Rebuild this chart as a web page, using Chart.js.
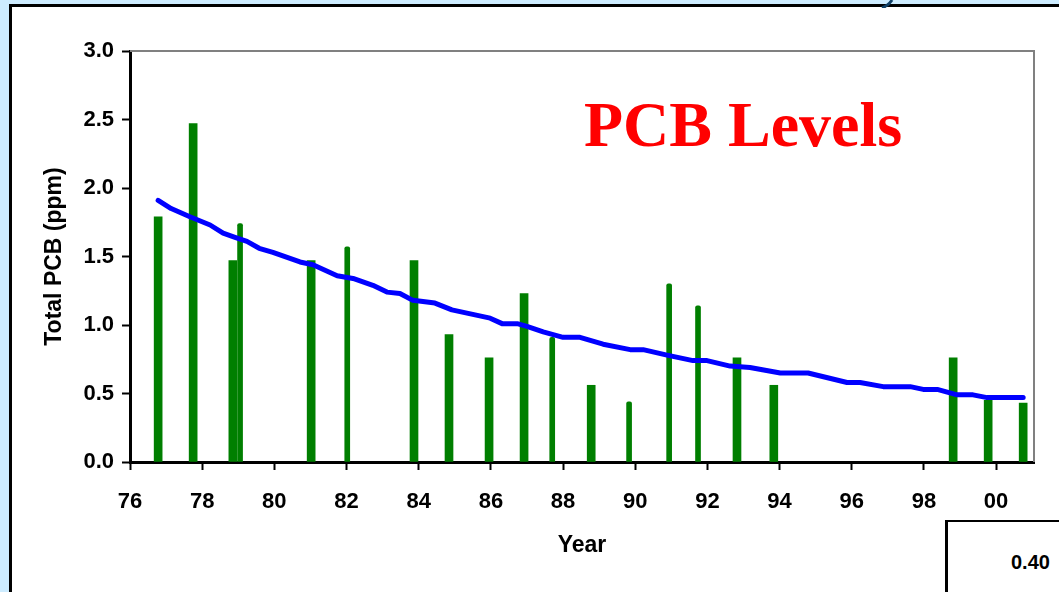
<!DOCTYPE html>
<html>
<head>
<meta charset="utf-8">
<script src="https://cdn.jsdelivr.net/npm/chart.js@4"></script>
<style>
  html, body { margin: 0; padding: 0; }
  body {
    width: 1059px; height: 592px; overflow: hidden; position: relative;
    background: #cdecff;
    font-family: "Liberation Sans", Arial, sans-serif;
  }
  #panel {
    position: absolute; left: 9px; top: 4px; width: 1100px; height: 700px;
    background: #fff; border-left: 3px solid #000; border-top: 3px solid #000;
  }
  #deco { position: absolute; left: 870px; top: 0; }
  #chart { position: absolute; left: 0; top: 0; }
  #heading {
    position: absolute; left: 584px; top: 93px; white-space: nowrap;
    font: bold 64px/64px "Liberation Serif", "Times New Roman", serif;
    color: #ff0000;
  }
  #valueBox {
    position: absolute; left: 945px; top: 520px; width: 200px; height: 200px;
    background: #fff; border-left: 3px solid #000; border-top: 2px solid #000;
  }
  #valueBox span {
    position: absolute; left: 63px; top: 30px;
    font: bold 20px/20px "Liberation Sans", Arial, sans-serif; color: #000;
  }
</style>
</head>
<body>
<div id="panel"></div>
<svg id="deco" width="30" height="8"><path d="M12 8 Q19 5 22 0" stroke="#0f3f66" stroke-width="3" fill="none"/></svg>
<canvas id="chart" width="1059" height="592"></canvas>
<div id="heading">PCB Levels</div>
<div id="valueBox"><span>0.40</span></div>
<script>
// wide sampling bars
const wideYears  = [76.78, 77.75, 78.85, 81.02, 83.87, 84.84, 85.95, 86.92, 88.78, 92.82, 93.84, 98.81, 99.78, 100.75];
const wideValues = [1.79, 2.47, 1.47, 1.47, 1.47, 0.93, 0.76, 1.23, 0.56, 0.76, 0.56, 0.76, 0.45, 0.43];

// narrow sampling bars
const narrowYears  = [79.05, 82.02, 87.70, 89.83, 90.94, 91.74];
const narrowValues = [1.74, 1.57, 0.91, 0.44, 1.30, 1.14];

// fitted trend
const trendYears = [76.78, 77.14, 77.66, 78.22, 78.58, 78.91, 79.24, 79.58, 79.96, 80.71, 81.07, 81.74,
  82.18, 82.73, 83.12, 83.48, 83.84, 84.45, 84.92, 85.98, 86.31, 86.73, 87.00, 87.45, 88.00, 88.47,
  89.11, 89.86, 90.22, 90.88, 91.60, 91.99, 92.63, 93.18, 94.02, 94.79, 95.87, 96.23, 96.87, 97.62,
  97.98, 98.37, 98.92, 99.36, 99.75, 100.75];
const trendValues = [1.91, 1.85, 1.79, 1.73, 1.67, 1.64, 1.61, 1.56, 1.53, 1.46, 1.44, 1.36,
  1.34, 1.29, 1.24, 1.23, 1.18, 1.16, 1.11, 1.05, 1.01, 1.01, 0.99, 0.95, 0.91, 0.91,
  0.86, 0.82, 0.82, 0.78, 0.74, 0.74, 0.70, 0.69, 0.65, 0.65, 0.58, 0.58, 0.55, 0.55,
  0.53, 0.53, 0.49, 0.49, 0.47, 0.47];

const xTickValues = [76, 78, 80, 82, 84, 86, 88, 90, 92, 94, 96, 98, 100];
const yTickValues = [0, 0.5, 1.0, 1.5, 2.0, 2.5, 3.0];

function toPoints(xs, ys) {
  return xs.map((x, i) => ({ x: x, y: ys[i] }));
}

// gray frame on top and right of the plot area
const plotFrame = {
  id: 'plotFrame',
  beforeDatasetsDraw(chart) {
    const { ctx, chartArea: a } = chart;
    ctx.save();
    ctx.strokeStyle = '#808080';
    ctx.lineWidth = 2;
    ctx.beginPath();
    ctx.moveTo(a.left, a.top);
    ctx.lineTo(a.right, a.top);
    ctx.lineTo(a.right, a.bottom);
    ctx.stroke();
    ctx.restore();
  }
};

const tickFont = { family: '"Liberation Sans", Arial, sans-serif', size: 22, weight: 'bold' };
const titleFont = { family: '"Liberation Sans", Arial, sans-serif', size: 23, weight: 'bold', lineHeight: 1.2 };

new Chart(document.getElementById('chart'), {
  type: 'bar',
  data: {
    datasets: [
      {
        type: 'line',
        data: toPoints(trendYears, trendValues),
        borderColor: '#0000ff',
        borderWidth: 5,
        borderCapStyle: 'round',
        borderJoinStyle: 'round',
        pointRadius: 0,
        tension: 0,
        fill: false
      },
      {
        data: toPoints(wideYears, wideValues),
        backgroundColor: '#007f00',
        barThickness: 8,
        grouped: false
      },
      {
        data: toPoints(narrowYears, narrowValues),
        backgroundColor: '#007f00',
        barThickness: 5,
        borderRadius: { topLeft: 2, topRight: 2 },
        borderSkipped: 'bottom',
        grouped: false
      }
    ]
  },
  options: {
    responsive: false,
    animation: false,
    layout: { padding: { left: 37, top: 51, right: 25, bottom: 0 } },
    plugins: { legend: { display: false }, tooltip: { enabled: false } },
    scales: {
      x: {
        type: 'linear',
        offset: false,
        min: 76,
        max: 101.05,
        z: 1,
        afterFit(scale) { scale.height = 130; },
        afterBuildTicks(scale) { scale.ticks = xTickValues.map(v => ({ value: v })); },
        border: { display: true, color: '#000', width: 3 },
        grid: { offset: false, drawOnChartArea: false, drawTicks: true, tickLength: 8, tickColor: '#000', tickWidth: 2 },
        ticks: {
          color: '#000',
          font: tickFont,
          padding: 19,
          maxRotation: 0,
          callback: v => String(v % 100).padStart(2, '0')
        },
        title: { display: true, text: 'Year', color: '#000', font: titleFont, padding: { top: 0, bottom: 33 } }
      },
      y: {
        min: 0,
        max: 3,
        afterFit(scale) { scale.width = 93; },
        afterBuildTicks(scale) { scale.ticks = yTickValues.map(v => ({ value: v })); },
        border: { display: true, color: '#000', width: 3 },
        grid: { drawOnChartArea: false, drawTicks: true, tickLength: 8, tickColor: '#000', tickWidth: 2 },
        ticks: {
          color: '#000',
          font: tickFont,
          padding: 8,
          callback: v => v.toFixed(1)
        },
        title: { display: true, text: 'Total PCB (ppm)', color: '#000', font: titleFont, padding: { top: 4, bottom: 0 } }
      }
    }
  },
  plugins: [plotFrame]
});
</script>
</body>
</html>
